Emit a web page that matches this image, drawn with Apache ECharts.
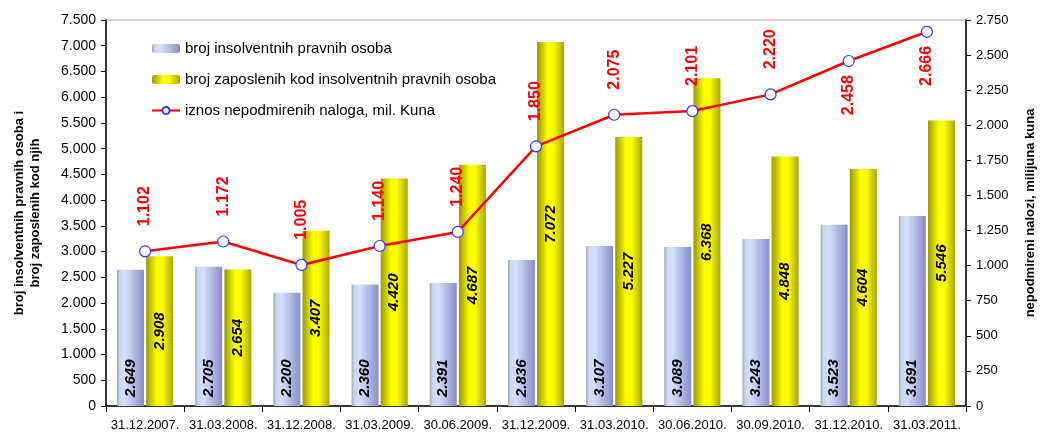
<!DOCTYPE html>
<html>
<head>
<meta charset="utf-8">
<script src="https://cdn.jsdelivr.net/npm/echarts@6/dist/echarts.min.js"></script>
<style>
  html, body { margin: 0; padding: 0; background: #fff; }
  #main { width: 1049px; height: 446px; }
</style>
</head>
<body>
<div id="main"></div>
<script>
const categories = ['31.12.2007.', '31.03.2008.', '31.12.2008.', '31.03.2009.', '30.06.2009.', '31.12.2009.',
  '31.03.2010.', '30.06.2010.', '30.09.2010.', '31.12.2010.', '31.03.2011.']
const insolventni = [2649, 2705, 2200, 2360, 2391, 2836, 3107, 3089, 3243, 3523, 3691]
const zaposleni = [2908, 2654, 3407, 4420, 4687, 7072, 5227, 6368, 4848, 4604, 5546]
const nalozi = [1102, 1172, 1005, 1140, 1240, 1850, 2075, 2101, 2220, 2458, 2666]
// zadnje dvije oznake linije su ispod tocke
const naloziLabelBelow = [false, false, false, false, false, false, false, false, false, true, true]

// tocka kao separator tisucica
function fmt(v) {
  return String(v).replace(/\B(?=(\d{3})+(?!\d))/g, '.')
}

const font = 'Liberation Sans, Arial, sans-serif'

const blueGrad = new echarts.graphic.LinearGradient(0, 0, 1, 0, [
  { offset: 0, color: '#9aab9c' },
  { offset: 0.1, color: '#c9d5f2' },
  { offset: 0.3, color: '#d6e0fd' },
  { offset: 1, color: '#878ec9' }
])
const yellowGrad = new echarts.graphic.LinearGradient(0, 0, 1, 0, [
  { offset: 0, color: '#999900' },
  { offset: 0.4, color: '#ffff00' },
  { offset: 0.6, color: '#ffff00' },
  { offset: 1, color: '#a6a600' }
])

const barLabel = {
  show: true,
  rotate: 90,
  fontSize: 15,
  fontWeight: 'bold',
  fontStyle: 'italic',
  color: '#000',
  formatter: p => fmt(p.value)
}

const chart = echarts.init(document.getElementById('main'))
chart.setOption({
  animation: false,
  textStyle: { fontFamily: font },
  grid: {
    left: 106, right: 83, top: 20, bottom: 40,
    show: true, borderColor: '#a8a8a8', borderWidth: 1
  },
  legend: {
    orient: 'vertical',
    left: 146,
    top: 36,
    itemGap: 16,
    itemWidth: 28,
    itemHeight: 9,
    textStyle: { fontSize: 15, color: '#000', fontFamily: font },
    data: [
      { name: 'broj insolventnih pravnih osoba' },
      { name: 'broj zaposlenih kod insolventnih pravnih osoba' },
      { name: 'iznos nepodmirenih naloga, mil. Kuna' }
    ]
  },
  xAxis: {
    type: 'category',
    data: categories,
    axisLine: { lineStyle: { color: '#000', width: 1.5 } },
    axisTick: { show: true, length: 6, lineStyle: { color: '#000' } },
    axisLabel: { color: '#000', fontSize: 13, margin: 13, interval: 0 }
  },
  yAxis: [
    {
      type: 'value',
      min: 0, max: 7500, interval: 500,
      name: 'broj insolventnih pravnih osoba i\nbroj zaposlenih kod njih',
      nameLocation: 'middle',
      nameRotate: 90,
      nameGap: 63,
      nameTextStyle: { fontWeight: 'bold', fontSize: 13, color: '#000', lineHeight: 16 },
      axisLine: { show: true, lineStyle: { color: '#000', width: 1.5 } },
      axisTick: { show: true, length: 5, lineStyle: { color: '#000' } },
      splitLine: { show: false },
      axisLabel: { color: '#000', fontSize: 14, margin: 10, formatter: fmt }
    },
    {
      type: 'value',
      position: 'right',
      min: 0, max: 2750, interval: 250,
      name: 'nepodmireni nalozi, milijuna kuna',
      nameLocation: 'middle',
      nameRotate: 90,
      nameGap: 58,
      nameTextStyle: { fontWeight: 'bold', fontSize: 13, color: '#000' },
      axisLine: { show: true, lineStyle: { color: '#000', width: 1.5 } },
      axisTick: { show: true, length: 5, lineStyle: { color: '#000' } },
      splitLine: { show: false },
      axisLabel: { color: '#000', fontSize: 13, margin: 10, formatter: fmt }
    }
  ],
  series: [
    {
      name: 'broj insolventnih pravnih osoba',
      type: 'bar',
      barWidth: 27,
      barGap: '8%',
      itemStyle: { color: blueGrad },
      label: Object.assign({}, barLabel, {
        position: 'insideBottom',
        align: 'left',
        verticalAlign: 'middle',
        distance: 9
      }),
      data: insolventni
    },
    {
      name: 'broj zaposlenih kod insolventnih pravnih osoba',
      type: 'bar',
      barWidth: 27,
      itemStyle: { color: yellowGrad },
      label: Object.assign({}, barLabel, {
        position: 'inside',
        align: 'center',
        verticalAlign: 'middle'
      }),
      data: zaposleni
    },
    {
      name: 'iznos nepodmirenih naloga, mil. Kuna',
      type: 'line',
      yAxisIndex: 1,
      symbol: 'circle',
      symbolSize: 11,
      itemStyle: { color: '#fff', borderColor: '#3333ff', borderWidth: 1.2 },
      lineStyle: { color: '#ff0000', width: 2.5 },
      label: {
        show: true,
        position: 'top',
        rotate: 90,
        align: 'left',
        verticalAlign: 'middle',
        distance: 19,
        fontSize: 16,
        fontWeight: 'bold',
        color: '#ff0000',
        formatter: p => fmt(p.value)
      },
      data: nalozi.map((v, i) => naloziLabelBelow[i]
        ? { value: v, label: { position: 'bottom', align: 'right', distance: 8 } }
        : v)
    }
  ]
})
</script>
</body>
</html>
